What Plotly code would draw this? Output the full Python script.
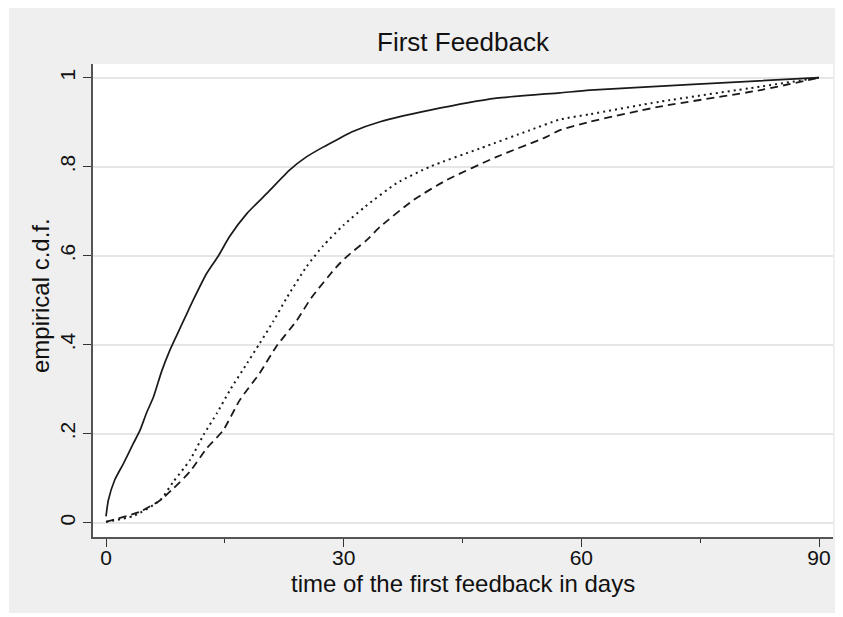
import plotly.graph_objects as go

# ---- data ----
solid_days = [0, 0.3, 1.1, 2.2, 3.45, 4.3, 5.1, 6.0, 7.0, 8.0, 8.9, 10.0, 11.0, 12.7, 14.2,
              15.6, 17.8, 20.3, 23.2, 25.3, 27.4, 29.5, 31.0, 34.6, 40.9, 49.3, 57.3, 61.1, 74.1, 90]
solid_cdf = [0.014, 0.051, 0.096, 0.133, 0.178, 0.208, 0.246, 0.283, 0.339, 0.385, 0.420, 0.462, 0.50,
             0.560, 0.600, 0.643, 0.695, 0.740, 0.793, 0.822, 0.844, 0.864, 0.878, 0.901, 0.927,
             0.954, 0.966, 0.972, 0.985, 1.0]

dot_days = [0, 3.45, 6.8, 8.5, 10.6, 12.3, 14.0, 15.65, 17.8, 19.4, 21.1, 22.8, 25.3, 27.4, 30.0,
            32.7, 36.7, 40.9, 47.2, 53.5, 57.3, 61.1, 69.9, 82.6, 90]
dot_cdf = [0.002, 0.015, 0.05, 0.092, 0.141, 0.197, 0.246, 0.298, 0.358, 0.403, 0.452, 0.505,
           0.575, 0.622, 0.669, 0.710, 0.763, 0.800, 0.841, 0.882, 0.906, 0.918, 0.946, 0.980, 1.0]

dash_days = [0, 4.3, 6.8, 8.5, 10.6, 12.7, 14.8, 16.9, 19.4, 21.5, 24.1, 25.9, 29.1, 30.4, 32.9,
             34.6, 38.8, 43.0, 49.3, 55.6, 57.3, 61.1, 69.9, 82.6, 90]
dash_cdf = [0.002, 0.025, 0.05, 0.077, 0.115, 0.167, 0.208, 0.276, 0.336, 0.396, 0.455, 0.505,
            0.575, 0.598, 0.635, 0.665, 0.725, 0.770, 0.822, 0.867, 0.882, 0.901, 0.935, 0.972, 1.0]

x_tickvals = [0, 30, 60, 90]
x_minor = [15, 45, 75]
y_tickvals = [0, 0.2, 0.4, 0.6, 0.8, 1]
y_ticktext = ["0", ".2", ".4", ".6", ".8", "1"]

title_text = "First Feedback"
x_title = "time of the first feedback in days"
y_title = "empirical c.d.f."

# ---- figure (page body has an 8px margin, so shift everything by 8px) ----
OFF = 8
W, H = 843 - OFF, 617 - OFF
L, R, T, B = 93 - OFF, 10, 64 - OFF, 80
pw, ph = W - L - R, H - T - B

def px_to_paper_x(px):
    return (px - OFF - L) / pw

def px_to_paper_y(py):
    return (H - B - (py - OFF)) / ph

FONT = "Liberation Sans, Arial, sans-serif"
LC = "#1a1a1a"

fig = go.Figure()
fig.add_trace(go.Scatter(x=solid_days, y=solid_cdf, mode="lines", line_shape="spline",
                         line=dict(color=LC, width=1.7, smoothing=0.6), showlegend=False))
fig.add_trace(go.Scatter(x=dot_days, y=dot_cdf, mode="lines", line_shape="spline",
                         line=dict(color=LC, width=2.0, dash="2px,4px", smoothing=0.6), showlegend=False))
fig.add_trace(go.Scatter(x=dash_days, y=dash_cdf, mode="lines", line_shape="spline",
                         line=dict(color=LC, width=1.8, dash="8px,5px", smoothing=0.6), showlegend=False))

shapes = [
    dict(type="rect", xref="paper", yref="paper", layer="below",
         x0=px_to_paper_x(9), x1=px_to_paper_x(837), y0=px_to_paper_y(613), y1=px_to_paper_y(0),
         fillcolor="#EFEFEF", line=dict(width=0)),
    dict(type="rect", xref="paper", yref="paper", layer="below",
         x0=0, x1=1, y0=0, y1=1, fillcolor="white", line=dict(width=0)),
]

annotations = [
    dict(text=title_text, xref="paper", yref="paper", x=0.5, y=px_to_paper_y(42),
         xanchor="center", yanchor="middle", showarrow=False,
         font=dict(family=FONT, size=26, color="#111")),
    dict(text=x_title, xref="paper", yref="paper", x=0.5, y=px_to_paper_y(583),
         xanchor="center", yanchor="middle", showarrow=False,
         font=dict(family=FONT, size=24, color="#111")),
    dict(text=y_title, xref="paper", yref="paper", x=px_to_paper_x(40), y=px_to_paper_y(296),
         xanchor="center", yanchor="middle", showarrow=False, textangle=-90,
         font=dict(family=FONT, size=24, color="#111")),
]

x0_px, x90_px = 106 - OFF, 819 - OFF
sx = (x90_px - x0_px) / 90.0
y0_px, y1_px = 522.7 - OFF, 77.7 - OFF
sy = (y0_px - y1_px) / 1.0

fig.update_layout(
    width=W, height=H,
    margin=dict(l=L, r=R, t=T, b=B, pad=0),
    paper_bgcolor="white", plot_bgcolor="white",
    shapes=shapes, annotations=annotations,
    font=dict(family=FONT, color="#111"),
    xaxis=dict(range=[(L - x0_px) / sx, (L + pw - x0_px) / sx],
               tickvals=x_tickvals, ticktext=[str(v) for v in x_tickvals],
               ticks="outside", ticklen=8, tickwidth=1.2, tickcolor="#333",
               ticklabelstandoff=-7,
               showline=True, linecolor="#555", linewidth=2, mirror=False,
               showgrid=False, zeroline=False,
               minor=dict(tickvals=x_minor, ticks="outside", ticklen=4, tickwidth=1.2,
                          tickcolor="#333", showgrid=False),
               tickfont=dict(family=FONT, size=21, color="#111")),
    yaxis=dict(range=[-(T + ph - y0_px) / sy, (y0_px - T) / sy],
               tickvals=y_tickvals, ticktext=y_ticktext, tickangle=-90,
               ticks="outside", ticklen=8, tickwidth=1.2, tickcolor="#333",
               showline=True, linecolor="#555", linewidth=2,
               showgrid=True, gridcolor="#E6E6E6", gridwidth=1.5, zeroline=False,
               tickfont=dict(family=FONT, size=21, color="#111")),
)

fig.write_html("out.html")
